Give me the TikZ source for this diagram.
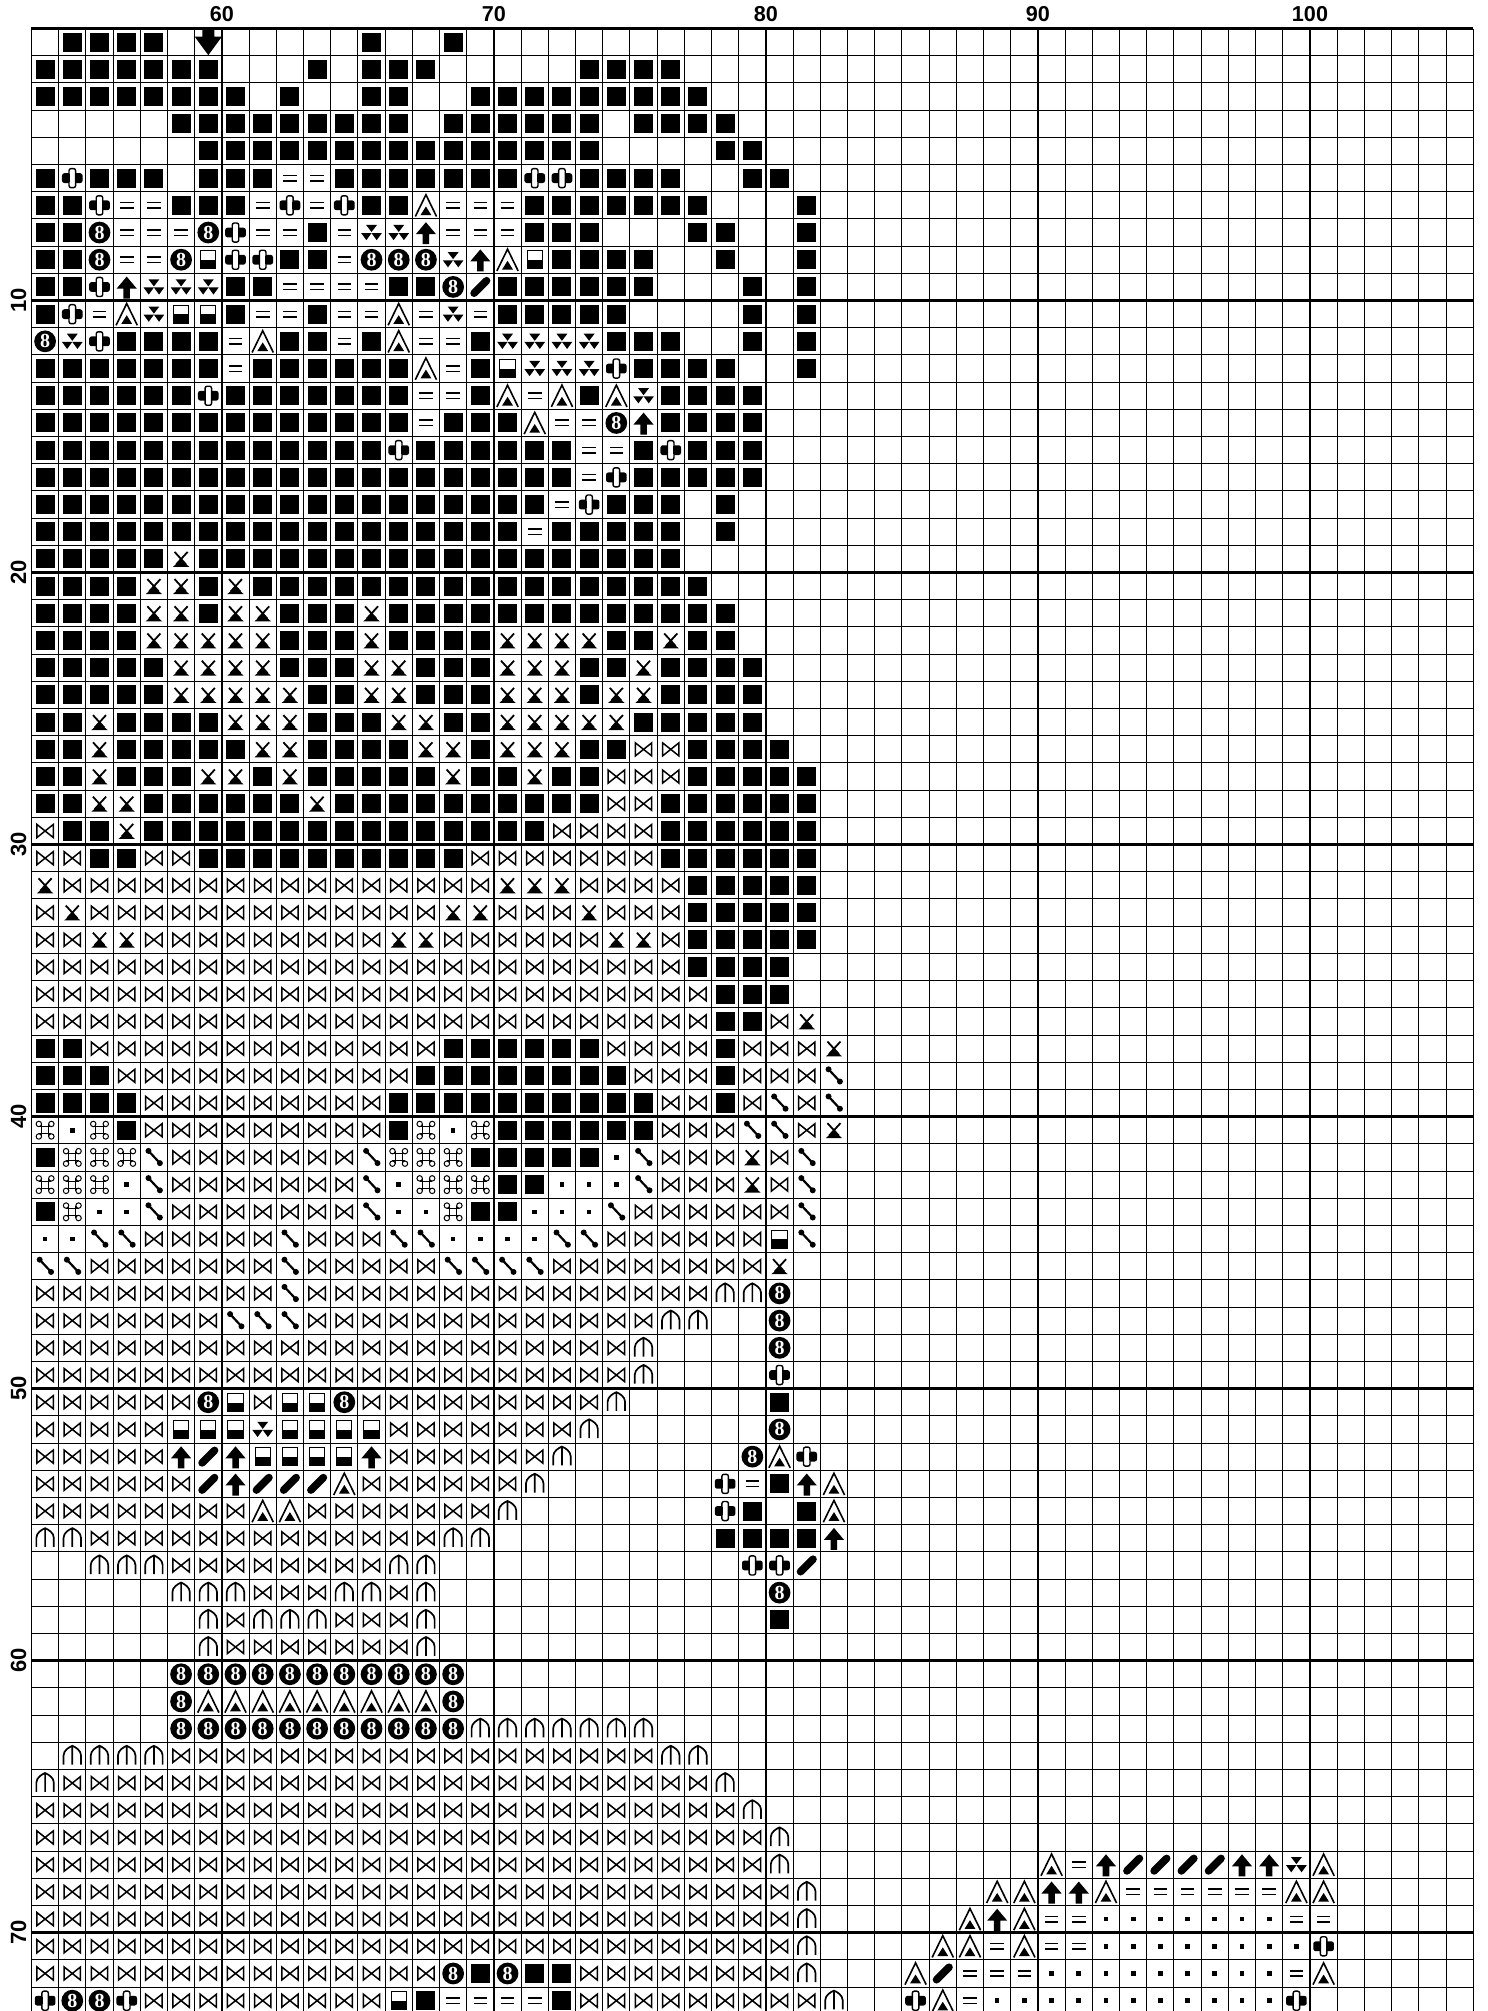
\documentclass[tikz,border=0pt]{standalone}
\usepackage{fontspec}
\setmainfont{Liberation Sans}
\newfontfamily\eightfont{Liberation Serif}
\newcount\cellcol
\newcount\cellrow
\def\scanrow#1{\ifx#1\relax\else\ifx#1-\else\pic at (\the\cellcol.5,-\the\cellrow.5) {stitch#1};\fi\advance\cellcol by 1 \expandafter\scanrow\fi}
\def\stitchrow#1{\cellcol=0 \scanrow#1\relax\advance\cellrow by 1 }
\tikzset{
  gridthin/.style={line width=.5pt},
  gridbold/.style={line width=1.2pt},
  symline/.style={line width=.75pt},
  collabel/.style={font=\bfseries\fontsize{10.8}{10.8}\selectfont,anchor=base,inner sep=0pt},
  rowlabel/.style={font=\bfseries\fontsize{11}{11}\selectfont,anchor=base,inner sep=0pt,rotate=90},
  pics/stitchB/.style={code={\fill (-.35,-.35) rectangle (.35,.35);}},
  pics/stitchE/.style={code={\draw[symline] (-.25,.1) -- (.25,.1) (-.25,-.1) -- (.25,-.1);}},
  pics/stitchD/.style={code={\fill (-.085,-.085) rectangle (.085,.085);}},
  pics/stitchP/.style={code={
    \fill[rounded corners=1.2pt] (-.38,-.18) rectangle (.38,.18);
    \draw[line width=.7pt,fill=white,rounded corners=1pt] (-.12,-.35) rectangle (.12,.35);
    \draw[line width=.7pt] (-.12,-.14) -- (-.12,.14) (.12,-.14) -- (.12,.14);}},
  pics/stitchO/.style={code={
    \fill (0,0) circle (.4);
    \node[font=\eightfont\bfseries\fontsize{10}{10}\selectfont,text=white,inner sep=0pt] (eight) at (0,0) {8};}},
  pics/stitchA/.style={code={
    \draw[symline,line width=.8pt] (-.39,-.41) -- (0,.39) -- (.39,-.41);
    \fill (-.2,-.36) -- (0,-.04) -- (.2,-.36) -- cycle;}},
  pics/stitchV/.style={code={
    \fill (-.2,.28) -- (.2,.28) -- (0,.02) -- cycle;
    \fill (-.38,-.02) -- (0,-.02) -- (-.19,-.28) -- cycle;
    \fill (0,-.02) -- (.38,-.02) -- (.19,-.28) -- cycle;}},
  pics/stitchR/.style={code={
    \fill (0,.38) -- (.37,-.06) -- (.12,-.06) -- (.12,-.43) -- (-.12,-.43) -- (-.12,-.06) -- (-.37,-.06) -- cycle;}},
  pics/stitchL/.style={code={\draw[line width=3.8pt,line cap=round] (-.23,-.23) -- (.23,.23);}},
  pics/stitchH/.style={code={
    \fill (-.28,-.33) rectangle (.28,-.01);
    \draw[gridthin] (-.28,-.33) rectangle (.28,.33);}},
  pics/stitchX/.style={code={
    \draw[line width=.9pt] (-.24,.26) -- (.18,-.2) (.24,.26) -- (-.18,-.2);
    \fill (0,-.03) -- (.3,-.29) -- (-.3,-.29) -- cycle;}},
  pics/stitchM/.style={code={
    \draw[symline] (-.3,.24) -- (-.3,-.24) -- (.3,.24) -- (.3,-.24) -- (-.3,.24) -- cycle;}},
  pics/stitchN/.style={code={
    \draw[line width=.85pt] (-.32,-.32) -- (-.32,.02) .. controls (-.32,.2) and (-.12,.32) .. (0,.37) .. controls (.12,.32) and (.32,.2) .. (.32,.02) -- (.32,-.32) (0,-.32) -- (0,.37);}},
  pics/stitchC/.style={code={
    \draw[gridthin] (-.23,.13) -- (.23,.13) (-.23,-.13) -- (.23,-.13) (-.13,-.23) -- (-.13,.23) (.13,-.23) -- (.13,.23);
    \draw[gridthin] (-.23,.23) circle (.1) (.23,.23) circle (.1) (-.23,-.23) circle (.1) (.23,-.23) circle (.1);}},
  pics/stitchS/.style={code={
    \draw[line width=1.1pt] (-.2,.24) -- (.22,-.21);
    \fill (-.2,.24) circle (.11) (.22,-.21) circle (.11);}},
  pics/stitchZ/.style={code={
    \fill (-.22,.5) -- (.22,.5) -- (.22,.2) -- (.5,.2) -- (0,-.48) -- (-.5,.2) -- (-.22,.2) -- cycle;}}
}
\begin{document}
\begin{tikzpicture}[x=13.6pt,y=13.6pt]
\useasboundingbox (-1.158,1.048) rectangle (53.51,-72.88);
\foreach \c in {0,...,53} \draw[gridthin] (\c,0) -- (\c,-73);
\foreach \r in {0,...,73} \draw[gridthin] (0,-\r) -- (53,-\r);
\draw[gridbold] (0,0) -- (53,0);
\foreach \c in {7,17,27,37,47} \draw[gridbold] (\c,0) -- (\c,-73);
\foreach \r in {10,20,...,70} \draw[gridbold] (0,-\r) -- (53,-\r);
\foreach \c/\t in {7/60,17/70,27/80,37/90,47/100} \node[collabel] (col\t) at (\c,.24) {\t};
\foreach \r in {10,20,...,70} \node[rowlabel] (row\r) at (-.2,-\r) {\r};
\cellrow=0
\stitchrow{-BBBB-Z--- --B--B}
\stitchrow{BBBBBBB--- B-BBB----- BBBB}
\stitchrow{BBBBBBBB-B --BB--BBBB BBBBB}
\stitchrow{-----BBBBB BBBB-BBBBB B-BBBB}
\stitchrow{------BBBB BBBBBBBBBB B----BB}
\stitchrow{BPBBB-BBBE EBBBBBBBPP BBBB--BB}
\stitchrow{BBPEEBBBEP EPBBAEEEBB BBBBB---B}
\stitchrow{BBOEEEOPEE BEVVREEEBB B---BB--B}
\stitchrow{BBOEEOHPPB BEOOOVRAHB BBB--B--B}
\stitchrow{BBPRVVVBBE EEEBBOLBBB BBB---B-B}
\stitchrow{BPEAVHHBEE BEEAEVEBBB BB----B-B}
\stitchrow{OVPBBBBEAB BEBAEEBVVV VBBB--B-B}
\stitchrow{BBBBBBBEBB BBBBAEBHVV VPBBBB--B}
\stitchrow{BBBBBBPBBB BBBBEEBAEA BAVBBBB}
\stitchrow{BBBBBBBBBB BBBBEBBBAE EORBBBB}
\stitchrow{BBBBBBBBBB BBBPBBBBBB EEBPBBB}
\stitchrow{BBBBBBBBBB BBBBBBBBBB EPBBBBB}
\stitchrow{BBBBBBBBBB BBBBBBBBBE PBBB-B}
\stitchrow{BBBBBBBBBB BBBBBBBBEB BBBB-B}
\stitchrow{BBBBBXBBBB BBBBBBBBBB BBBB}
\stitchrow{BBBBXXBXBB BBBBBBBBBB BBBBB}
\stitchrow{BBBBXXBXXB BBXBBBBBBB BBBBBB}
\stitchrow{BBBBXXXXXB BBXBBBBXXX XBBXBB}
\stitchrow{BBBBBXXXXB BBXXBBBXXX BBXBBBB}
\stitchrow{BBBBBXXXXX BBXXBBBXXX BXXBBBB}
\stitchrow{BBXBBBBXXX BBBXXBBXXX XXBBBBB}
\stitchrow{BBXBBBBBXX BBBBXXBXXX BBMMBBBB}
\stitchrow{BBXBBBXXBX BBBBBXBBXB BMMMBBBBB}
\stitchrow{BBXXBBBBBB XBBBBBBBBB BMMBBBBBB}
\stitchrow{MBBXBBBBBB BBBBBBBBBM MMMBBBBBB}
\stitchrow{MMBBMMBBBB BBBBBBMMMM MMMBBBBBB}
\stitchrow{XMMMMMMMMM MMMMMMMXXX MMMMBBBBB}
\stitchrow{MXMMMMMMMM MMMMMXXMMM XMMMBBBBB}
\stitchrow{MMXXMMMMMM MMMXXMMMMM MXXMBBBBB}
\stitchrow{MMMMMMMMMM MMMMMMMMMM MMMMBBBB}
\stitchrow{MMMMMMMMMM MMMMMMMMMM MMMMMBBB}
\stitchrow{MMMMMMMMMM MMMMMMMMMM MMMMMBBMX}
\stitchrow{BBMMMMMMMM MMMMMBBBBB BMMMMBMMMX}
\stitchrow{BBBMMMMMMM MMMMBBBBBB BBMMMBMMMS}
\stitchrow{BBBBMMMMMM MMMBBBBBBB BBBMMBMSMS}
\stitchrow{CDCBMMMMMM MMMBCDCBBB BBBMMMSSMX}
\stitchrow{BCCCSMMMMM MMSCCCBBBB BDSMMMXMS}
\stitchrow{CCCDSMMMMM MMSDCCCBBD DDSMMMXMS}
\stitchrow{BCDDSMMMMM MMSDDCBBDD DSMMMMMMS}
\stitchrow{DDSSMMMMMS MMMSSDDDDS SMMMMMMHS}
\stitchrow{SSMMMMMMMS MMMMMSSSSM MMMMMMMX}
\stitchrow{MMMMMMMMMS MMMMMMMMMM MMMMMNNO}
\stitchrow{MMMMMMMSSS MMMMMMMMMM MMMNN--O}
\stitchrow{MMMMMMMMMM MMMMMMMMMM MMN----O}
\stitchrow{MMMMMMMMMM MMMMMMMMMM MMN----P}
\stitchrow{MMMMMMOHMH HOMMMMMMMM MN-----B}
\stitchrow{MMMMMHHHVH HHHMMMMMMM N------O}
\stitchrow{MMMMMRLRHH HHRMMMMMMN ------OAP}
\stitchrow{MMMMMMLRLL LAMMMMMMN- -----PEBRA}
\stitchrow{MMMMMMMMAA MMMMMMMN-- -----PB-BA}
\stitchrow{NNMMMMMMMM MMMMMNN--- -----BBBBR}
\stitchrow{--NNNMMMMM MMMNN----- ------PPL}
\stitchrow{-----NNNMM MNNMN----- -------O}
\stitchrow{------NMNN NMMMN----- -------B}
\stitchrow{------NMMM MMMMN}
\stitchrow{-----OOOOO OOOOOO}
\stitchrow{-----OAAAA AAAAAO}
\stitchrow{-----OOOOO OOOOOONNNN NNN}
\stitchrow{-NNNNMMMMM MMMMMMMMMM MMMNN}
\stitchrow{NMMMMMMMMM MMMMMMMMMM MMMMMN}
\stitchrow{MMMMMMMMMM MMMMMMMMMM MMMMMMN}
\stitchrow{MMMMMMMMMM MMMMMMMMMM MMMMMMMN}
\stitchrow{MMMMMMMMMM MMMMMMMMMM MMMMMMMN-- ------- AERLLLLRRVA}
\stitchrow{MMMMMMMMMM MMMMMMMMMM MMMMMMMMN- ----- AARRAEEEEEEAA}
\stitchrow{MMMMMMMMMM MMMMMMMMMM MMMMMMMMN- ---- ARAEEDDDDDDDEE}
\stitchrow{MMMMMMMMMM MMMMMMMMMM MMMMMMMMN- --- AAEAEEDDDDDDDDP}
\stitchrow{MMMMMMMMMM MMMMMOBOBB MMMMMMMMN- -- ALEEEDDDDDDDDDEA}
\stitchrow{POOPMMMMMM MMMHBEEEEB MMMMMMMMMN -- PAEDDDDDDDDDDDP}
\end{tikzpicture}
\end{document}
